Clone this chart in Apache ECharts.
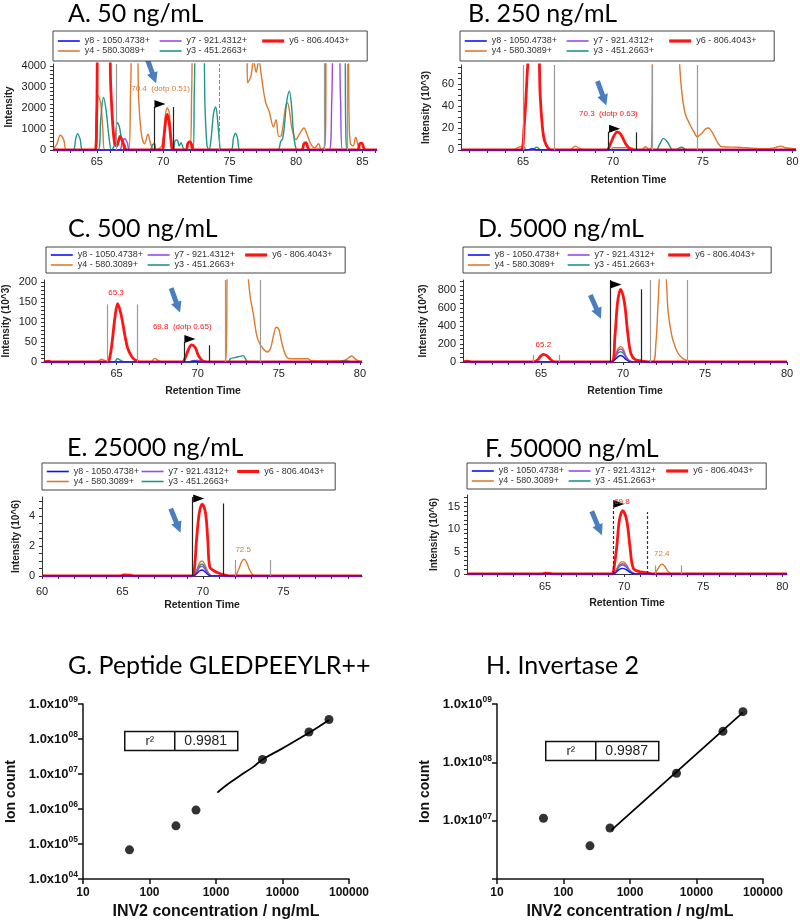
<!DOCTYPE html>
<html>
<head>
<meta charset="utf-8">
<script src="https://cdn.jsdelivr.net/npm/echarts@6/dist/echarts.min.js"></script>
<style>
  html, body { margin: 0; padding: 0; background: #fff; }
  #chart { width: 800px; height: 921px; }
</style>
</head>
<body>
<div id="chart"></div>
<script>
// fragment ions (legend order)
const ION_NAMES = ["y8 - 1050.4738+", "y7 - 921.4312+", "y6 - 806.4043+", "y4 - 580.3089+", "y3 - 451.2663+"];

// ---- A. 50 ng/mL (counts) ----
const A_y8 = [[61.7,0],[86.1,0]];
const A_y7 = [[61.7,0],[66.7,0],[66.9,350],[67.1,550],[67.3,350],[67.5,0],[82.5,0],[82.7,2500],[82.85,5000],[83.2,5000],[83.35,2500],[83.5,0],[86.1,0]];
const A_y6 = [[61.7,0],[64.9,0],[65.0,2000],[65.1,5000],[65.9,5000],[66.05,3000],[66.2,1200],[66.35,300],[66.5,200],[66.75,650],[67.0,300],[67.2,0],[69.9,0],[70.05,600],[70.2,1450],[70.3,1700],[70.45,1300],[70.6,400],[70.75,0],[71.7,0],[71.85,300],[72.0,400],[72.15,250],[72.3,0],[80.4,0],[80.6,300],[80.75,350],[80.9,100],[81.0,0],[84.6,0],[84.8,300],[84.95,330],[85.1,100],[85.2,0],[86.1,0]];
const A_y4 = [[61.7,0],[62.0,300],[62.25,700],[62.5,500],[62.75,0],[64.8,0],[64.95,1500],[65.1,2600],[65.3,2200],[65.45,1000],[65.6,0],[67.4,0],[67.55,3000],[67.7,5000],[68.0,5000],[68.15,2500],[68.35,800],[68.6,300],[68.85,750],[69.05,300],[69.3,0],[69.9,200],[70.15,1600],[70.3,2000],[70.45,1800],[70.6,600],[70.75,0],[72.0,0],[72.15,3000],[72.25,5000],[76.3,5000],[76.35,3200],[76.6,3500],[76.8,4300],[77.0,3700],[77.2,4300],[77.4,3500],[77.7,2300],[78.0,1800],[78.3,1100],[78.5,1450],[78.7,650],[78.9,700],[79.2,2000],[79.35,2250],[79.5,1900],[79.7,1000],[80.0,500],[80.3,800],[80.6,1050],[80.8,800],[81.1,300],[81.4,100],[81.7,300],[81.9,0],[82.2,300],[82.3,5000],[83.9,5000],[84.0,1500],[84.1,300],[84.3,200],[84.5,600],[84.7,200],[85.0,0],[86.1,0]];
const A_y3 = [[61.7,0],[63.2,0],[63.4,500],[63.55,780],[63.75,500],[63.95,0],[65.1,0],[65.3,1500],[65.5,2500],[65.7,1900],[65.9,700],[66.1,0],[66.3,200],[66.55,1300],[66.7,1100],[66.9,400],[67.1,250],[67.3,0],[69.0,0],[69.2,250],[69.35,300],[69.5,0],[70.7,0],[70.9,450],[71.05,480],[71.2,200],[71.35,350],[71.5,100],[71.7,0],[72.25,0],[72.35,3000],[72.5,5000],[73.0,5000],[73.15,2000],[73.3,200],[73.45,0],[73.6,500],[73.8,1800],[73.95,2050],[74.1,1400],[74.25,300],[74.35,0],[75.1,0],[75.3,600],[75.45,800],[75.6,550],[75.8,0],[78.6,0],[78.85,400],[79.0,550],[79.15,1300],[79.3,2300],[79.5,2800],[79.65,2200],[79.8,900],[79.95,200],[80.1,0],[82.1,0],[82.25,5000],[83.65,5000],[83.75,1000],[83.85,0],[86.1,0]];
const A_grey = [66.5, 82.15, 83.85];
const A_greyDash = [74.25];
const A_black = [[69.3,2050],[70.75,2050]];
const A_flag = [69.3,2050];
const A_arrow = [69.13,3760];
const A_label = [69.8,2900,"70.4  (dotp 0.51)"];

// ---- B. 250 ng/mL (10^3) ----
const B_y8 = [[61.54,0],[65.2,0],[65.5,1.2],[65.8,0],[80.2,0]];
const B_y7 = [[61.54,0],[80.2,0]];
const B_y6 = [[61.54,0],[64.85,0],[65.05,20],[65.25,75],[65.45,120],[65.78,120],[65.95,50],[66.08,20],[66.2,8],[66.4,1.5],[66.6,0],[69.65,0],[69.85,5],[70.05,12.5],[70.25,16.5],[70.45,14],[70.7,6],[70.95,1],[71.1,0],[80.2,0]];
const B_y4 = [[61.54,0],[64.4,0],[64.75,2.5],[65.0,3.5],[65.2,0],[67.6,0],[67.9,3.5],[68.2,1],[68.5,0],[69.9,0],[70.0,2],[71.0,2],[71.3,0],[71.6,0],[71.8,3],[72.0,1],[72.15,3],[72.25,120],[73.6,120],[73.72,77],[73.85,51],[74.03,33],[74.3,23],[74.5,17],[74.7,12],[74.95,15],[75.15,19],[75.33,20],[75.5,17],[75.7,11],[75.9,5],[76.1,3],[77.0,2.5],[77.5,2],[78.0,1.5],[78.5,1],[79.0,2],[79.35,3.5],[79.6,2],[80.2,1]];
const B_y3 = [[61.54,0],[65.5,0],[65.75,2.5],[66.0,0],[72.4,0],[72.6,5],[72.82,10.6],[73.05,7],[73.3,0.5],[73.5,0],[73.7,2],[73.85,2.5],[74.0,1],[74.2,0],[80.2,0]];
const B_grey = [65.0, 66.73, 72.17, 74.72];
const B_black = [[69.76,16.7],[71.3,16]];
const B_flag = [69.76,16.7];
const B_arrow = [69.39,51.5];
const B_label = [69.75,33,"70.3  (dotp 0.63)"];

// ---- C. 500 ng/mL (10^3) ----
const C_y8 = [[60.53,0],[69.5,0],[69.8,2],[70.1,0],[80.13,0]];
const C_y7 = [[60.53,0],[69.4,0],[69.7,3],[70.0,4],[70.4,3],[70.7,0],[80.13,0]];
const C_y6 = [[60.53,0],[60.8,2],[61.0,0],[64.45,0],[64.55,5],[64.7,40],[64.9,110],[65.07,146],[65.3,115],[65.5,70],[65.7,33],[66.0,10],[66.3,2],[66.5,0],[69.05,0],[69.25,12],[69.45,33],[69.63,43],[69.85,36],[70.05,16],[70.3,3],[70.5,0],[80.13,0]];
const C_y4 = [[60.53,0],[63.8,0],[64.05,7],[64.3,3],[64.45,0],[67.1,0],[67.35,9],[67.6,3],[67.8,0],[69.4,0],[69.8,4],[70.2,0],[71.7,0],[71.78,60],[71.85,250],[73.05,250],[73.12,210],[73.25,160],[73.43,121],[73.6,75],[73.73,54],[74.04,33],[74.3,25],[74.5,35],[74.7,70],[74.85,87],[75.0,82],[75.15,55],[75.38,21],[75.6,9],[76.2,8],[76.8,8],[77.0,3],[78.0,2],[79.0,3],[79.3,10],[79.5,15],[79.7,8],[80.0,1]];
const C_y3 = [[60.53,0],[64.85,0],[65.05,8],[65.3,3],[65.5,0],[71.9,0],[72.0,8],[72.3,11],[72.6,14],[72.8,16],[72.95,8],[73.1,0],[78.7,0],[79.0,4],[79.3,2],[79.5,0],[80.13,0]];
const C_grey = [71.68, 73.88];
const C_short = [[64.45,144],[66.3,144]];
const C_black = [[69.15,50],[70.72,42]];
const C_flag = [69.15,50];
const C_arrow = [68.64,154];
const C_label1 = [64.97,173,"65.3"];
const C_label2 = [69.05,87,"69.8  (dotp 0.65)"];

// ---- D. 5000 ng/mL (10^3) ----
const D_y8 = [[60.24,0],[69.3,0],[69.5,25],[69.7,60],[69.85,72],[70.0,60],[70.2,25],[70.4,5],[70.6,0],[80.0,0]];
const D_y7 = [[60.24,0],[69.3,0],[69.5,50],[69.7,125],[69.85,145],[70.0,125],[70.2,50],[70.4,10],[70.6,0],[80.0,0]];
const D_y6 = [[60.24,0],[60.5,10],[60.8,0],[64.5,0],[64.8,25],[65.0,70],[65.14,85],[65.35,70],[65.6,25],[65.85,0],[69.3,0],[69.51,298],[69.67,670],[69.85,811],[70.08,670],[70.28,335],[70.48,93],[70.73,30],[71.13,11],[71.54,0],[80.0,0]];
const D_y4 = [[60.24,0],[69.3,0],[69.5,60],[69.7,150],[69.85,172],[70.0,150],[70.2,60],[70.4,15],[70.6,3],[71.0,0],[71.8,0],[72.0,200],[72.15,690],[72.3,1000],[72.55,1000],[72.75,560],[72.97,298],[73.2,160],[73.37,93],[73.6,45],[73.78,27],[74.0,10],[74.3,5],[80.0,4]];
const D_y3 = [[60.24,0],[69.3,0],[69.5,45],[69.7,100],[69.85,115],[70.0,100],[70.2,45],[70.4,8],[70.6,0],[80.0,0]];
const D_grey = [71.68, 73.92];
const D_short = [[64.53,80],[66.11,80]];
const D_black = [[69.2,915],[71.13,811]];
const D_flag = [69.2,830];
const D_arrow = [68.33,614];
const D_label1 = [65.14,197,"65.2"];
const D_label2 = [69.85,925,"69.8"];

// ---- E. 25000 ng/mL (10^6) ----
const E_y8 = [[60,0],[69.4,0],[69.6,0.15],[69.8,0.35],[69.95,0.4],[70.1,0.3],[70.3,0.1],[70.5,0],[79.88,0]];
const E_y7 = [[60,0],[69.4,0],[69.6,0.25],[69.8,0.58],[69.95,0.65],[70.1,0.5],[70.3,0.15],[70.5,0],[79.88,0]];
const E_y6 = [[60,0],[64.8,0],[65.1,0.07],[65.5,0.05],[65.7,0],[69.3,0],[69.45,0.3],[69.6,2.4],[69.77,4.2],[69.95,4.8],[70.16,4.2],[70.3,2.4],[70.42,0.6],[70.67,0.35],[71.08,0.15],[71.5,0.03],[71.7,0],[79.88,0]];
const E_y4 = [[60,0],[69.4,0],[69.6,0.4],[69.8,0.9],[69.95,1.0],[70.1,0.8],[70.3,0.3],[70.5,0.05],[70.7,0],[71.95,0],[72.2,0.4],[72.4,0.95],[72.55,1.12],[72.7,0.95],[72.9,0.4],[73.1,0.08],[73.3,0],[74.0,0],[74.2,0.05],[74.4,0],[79.88,0]];
const E_y3 = [[60,0],[69.4,0],[69.6,0.3],[69.8,0.7],[69.95,0.8],[70.1,0.62],[70.3,0.2],[70.5,0],[79.88,0]];
const E_short = [[71.98,1.07],[74.16,1.07]];
const E_black = [[69.36,5.27],[71.23,4.84]];
const E_flag = [69.36,4.97];
const E_arrow = [68.3,3.69];
const E_label = [72.5,1.78,"72.5"];

// ---- F. 50000 ng/mL (10^6) ----
const F_y8 = [[60.06,0],[69.3,0],[69.5,0.4],[69.7,1.05],[69.9,1.26],[70.1,1.05],[70.35,0.4],[70.6,0.05],[70.8,0],[80.3,0]];
const F_y7 = [[60.06,0],[69.3,0],[69.5,0.8],[69.7,1.9],[69.9,2.3],[70.1,1.9],[70.35,0.75],[70.6,0.1],[70.8,0],[80.3,0]];
const F_y6 = [[60.06,0],[64.8,0],[65.0,0.2],[65.3,0.15],[65.5,0],[69.25,0],[69.32,0.5],[69.53,6],[69.7,12],[69.91,14.1],[70.16,12],[70.37,6],[70.58,1.3],[71.0,0.5],[71.43,0.3],[71.85,0],[80.3,0]];
const F_y4 = [[60.06,0],[69.3,0],[69.5,1.0],[69.7,2.3],[69.9,2.75],[70.1,2.3],[70.35,0.9],[70.6,0.2],[70.8,0],[71.85,0],[72.05,0.7],[72.25,1.8],[72.38,2.16],[72.55,1.8],[72.75,0.7],[72.95,0.1],[73.1,0],[80.3,0]];
const F_y3 = [[60.06,0],[69.3,0],[69.5,0.7],[69.7,1.65],[69.9,2.0],[70.1,1.65],[70.35,0.65],[70.6,0.08],[70.8,0],[80.3,0]];
const F_short = [[71.95,1.9],[73.64,1.9]];
const F_blackDash = [[69.28,14.7],[71.43,13.8]];
const F_flag = [69.28,14.9];
const F_arrow = [68.27,11.3];
const F_label1 = [69.86,16.1,"69.8"];
const F_label2 = [72.38,4.5,"72.4"];

// ---- G / H calibration (ng/mL vs ion count) ----
const CONC = [50, 250, 500, 5000, 25000, 50000];
const G_ion = [6.8e4, 3.3e5, 9.3e5, 2.6e7, 1.58e8, 3.6e8];
const G_fitX = [1047, 1445, 2291, 3631, 5012, 10000, 25000, 50000];
const G_fitY = [2.93e6, 4.85e6, 8.9e6, 1.6e7, 2.6e7, 5.4e7, 1.5e8, 3.5e8];
const H_ion = [1.1e7, 3.7e6, 7.5e6, 6.5e7, 3.4e8, 7.4e8];
const H_fitX = [525, 50000];
const H_fitY = [6.9e6, 7.2e8];
const G_r2 = "0.9981";
const H_r2 = "0.9987";

// ------------------------------------------------------------
const ION_COLORS = ["#1010ff", "#9a48f0", "#ff1414", "#dd7a2e", "#1f978a"];
const ION_WIDTH = [1.4, 1.4, 2.8, 1.4, 1.4];
const DRAW_ORDER = [3, 4, 1, 2, 0]; // y4, y3, y7, y6, y8 on top
const ARROW = "path://M3,0 L8,0 L8,15 L11,15 L5.5,26 L0,15 L3,15 Z";
const FONT = "Liberation Sans, Arial, sans-serif";

const panels = [
  { title: "A. 50 ng/mL", tpos: [68, 1], grid: { left: 53, top: 64, width: 324, height: 86 },
    x: [61.7, 86.1], y: [0, 4100], yMajor: 1000, yMinor: 200, yName: "Intensity", yGap: 39, xGap: 25,
    legend: { left: 53, top: 31, tw: 74, pad: 5 },
    ions: [A_y8, A_y7, A_y6, A_y4, A_y3], grey: A_grey, greyDash: A_greyDash, short: [], black: A_black, blackDash: [],
    flag: A_flag, arrow: A_arrow, arrowRot: 20, labels: [[3, A_label]] },
  { title: "B. 250 ng/mL", tpos: [468, 1], grid: { left: 461, top: 65, width: 335, height: 85 },
    x: [61.54, 80.2], y: [0, 77.3], yMajor: 20, yMinor: 5, yName: "Intensity (10^3)", yGap: 30, xGap: 25,
    legend: { left: 460, top: 31, tw: 74, pad: 5 },
    ions: [B_y8, B_y7, B_y6, B_y4, B_y3], grey: B_grey, greyDash: [], short: [], black: B_black, blackDash: [],
    flag: B_flag, arrow: B_arrow, arrowRot: 20, labels: [[2, B_label]] },
  { title: "C. 500 ng/mL", tpos: [68, 216], grid: { left: 44, top: 280, width: 318, height: 82 },
    x: [60.53, 80.13], y: [0, 205], yMajor: 50, yMinor: 10, yName: "Intensity (10^3)", yGap: 33, xGap: 24,
    legend: { left: 46, top: 247, tw: 69, pad: 3 },
    ions: [C_y8, C_y7, C_y6, C_y4, C_y3], grey: C_grey, greyDash: [], short: C_short, black: C_black, blackDash: [],
    flag: C_flag, arrow: C_arrow, arrowRot: 20, labels: [[2, C_label1], [2, C_label2]] },
  { title: "D. 5000 ng/mL", tpos: [478, 216], grid: { left: 463, top: 280, width: 324, height: 82 },
    x: [60.24, 80.0], y: [0, 915], yMajor: 200, yMinor: 50, yName: "Intensity (10^3)", yGap: 35, xGap: 24,
    legend: { left: 463, top: 247, tw: 72, pad: 3 },
    ions: [D_y8, D_y7, D_y6, D_y4, D_y3], grey: D_grey, greyDash: [], short: D_short, black: D_black, blackDash: [],
    flag: D_flag, arrow: D_arrow, arrowRot: 24, labels: [[2, D_label1], [2, D_label2]] },
  { title: "E. 25000 ng/mL", tpos: [67, 435], grid: { left: 42, top: 497, width: 320, height: 79 },
    x: [60, 79.88], y: [0, 5.27], yMajor: 2, yMinor: 0.5, yName: "Intensity (10^6)", yGap: 21, xGap: 24,
    legend: { left: 42, top: 463, tw: 67, pad: 3.5 },
    ions: [E_y8, E_y7, E_y6, E_y4, E_y3], grey: [], greyDash: [], short: E_short, black: E_black, blackDash: [],
    flag: E_flag, arrow: E_arrow, arrowRot: 22, labels: [[3, E_label]], xMargin: 10 },
  { title: "F. 50000 ng/mL", tpos: [485, 436], grid: { left: 467, top: 495, width: 320, height: 79 },
    x: [60.06, 80.3], y: [0, 17.6], yMajor: 5, yMinor: 1, yName: "Intensity (10^6)", yGap: 28, xGap: 24,
    legend: { left: 467, top: 463, tw: 69, pad: 3 },
    ions: [F_y8, F_y7, F_y6, F_y4, F_y3], grey: [], greyDash: [], short: F_short, black: [], blackDash: F_blackDash,
    flag: F_flag, arrow: F_arrow, arrowRot: 23, labels: [[2, F_label1], [3, F_label2]], xMargin: 7 }
];

function steps(a, b, step) {
  const out = [];
  for (let v = Math.ceil(a / step - 1e-9) * step; v <= b + 1e-9; v += step) out.push(+v.toFixed(6));
  return out;
}

function vline(x, top, y0, style) {
  return [{ coord: [x, y0], lineStyle: style }, { coord: [x, top] }];
}

function plain(v) { return String(+v.toFixed(4)); }

const option = {
  animation: false,
  backgroundColor: "#fff",
  textStyle: { fontFamily: FONT },
  title: [],
  legend: [],
  grid: [],
  xAxis: [],
  yAxis: [],
  series: [],
  graphic: []
};

const legendData = ION_NAMES.map(function (n, k) {
  return { name: n, lineStyle: { width: k === 2 ? 3.2 : 1.6, color: ION_COLORS[k] } };
});

panels.forEach(function (p, i) {
  option.title.push({
    text: p.title, left: p.tpos[0], top: p.tpos[1], padding: 0,
    textStyle: { fontFamily: "Lato", fontSize: 25, fontWeight: "normal", color: "#000" }
  });
  option.legend.push({
    data: legendData, left: p.legend.left, top: p.legend.top, width: 3 * (27 + p.legend.tw) + 30,
    orient: "horizontal", itemGap: 0, itemWidth: 22, itemHeight: 10,
    padding: [p.legend.pad, 4, p.legend.pad, 4],
    borderColor: "#444", borderWidth: 1, backgroundColor: "#fff",
    selectedMode: false, z: 10,
    itemStyle: { opacity: 0, borderWidth: 0 },
    textStyle: { fontSize: 9, width: p.legend.tw, lineHeight: 10, color: "#333", fontFamily: FONT }
  });
  option.grid.push(Object.assign({ outerBoundsMode: "none", containLabel: false }, p.grid));
  option.xAxis.push({
    type: "value", gridIndex: i, min: p.x[0], max: p.x[1],
    name: "Retention Time", nameLocation: "middle", nameGap: p.xGap,
    nameTextStyle: { fontWeight: "bold", fontSize: 10.5, color: "#222" },
    axisLine: { show: true, onZero: false, lineStyle: { color: "#333", width: 1 } },
    axisTick: { show: true, length: 3, customValues: steps(p.x[0], p.x[1], 1), lineStyle: { color: "#333" } },
    axisLabel: { customValues: steps(p.x[0], p.x[1], 5), formatter: plain, fontSize: 11, color: "#222", margin: p.xMargin || 6 },
    splitLine: { show: false }
  });
  option.yAxis.push({
    type: "value", gridIndex: i, min: p.y[0], max: p.y[1],
    name: p.yName, nameLocation: "middle", nameGap: p.yGap,
    nameTextStyle: { fontWeight: "bold", fontSize: 10, color: "#222" },
    axisLine: { show: true, lineStyle: { color: "#333", width: 1 } },
    axisTick: { show: true, length: 3, customValues: steps(p.y[0], p.y[1], p.yMinor), lineStyle: { color: "#333" } },
    axisLabel: { customValues: steps(p.y[0], p.y[1], p.yMajor), formatter: plain, fontSize: 11, color: "#222", margin: 7 },
    splitLine: { show: false }
  });

  DRAW_ORDER.forEach(function (k) {
    const marks = p.labels.filter(function (l) { return l[0] === k; }).map(function (l) {
      return {
        coord: [l[1][0], l[1][1]], symbol: "rect", symbolSize: 1, itemStyle: { color: "rgba(0,0,0,0)" },
        label: { show: true, position: "inside", formatter: l[1][2], fontSize: 8, color: ION_COLORS[k] }
      };
    });
    option.series.push({
      type: "line", name: ION_NAMES[k], xAxisIndex: i, yAxisIndex: i, data: p.ions[k],
      symbol: "none", smooth: 0.35, clip: true,
      lineStyle: { color: ION_COLORS[k], width: ION_WIDTH[k] }, itemStyle: { color: ION_COLORS[k] },
      markPoint: marks.length ? { data: marks, animation: false, silent: true } : undefined
    });
  });

  // peak boundaries, flag and arrow
  const grey = { color: "#9a9a9a", width: 1.2, type: "solid" };
  const greyDash = { color: "#8a8a8a", width: 1, type: "dashed" };
  const black = { color: "#222", width: 1.2, type: "solid" };
  const blackDash = { color: "#333", width: 1.2, type: [3, 2] };
  const lines = []
    .concat(p.grey.map(function (x) { return vline(x, p.y[1], 0, grey); }))
    .concat(p.greyDash.map(function (x) { return vline(x, p.y[1], 0, greyDash); }))
    .concat(p.short.map(function (d) { return vline(d[0], d[1], 0, grey); }))
    .concat(p.black.map(function (d) { return vline(d[0], d[1], 0, black); }))
    .concat(p.blackDash.map(function (d) { return vline(d[0], d[1], 0, blackDash); }));
  option.series.push({
    type: "line", name: "marks " + i, xAxisIndex: i, yAxisIndex: i, data: [], symbol: "none", silent: true,
    markLine: { symbol: "none", silent: true, animation: false, label: { show: false }, data: lines },
    markPoint: {
      silent: true, animation: false,
      data: [
        { coord: p.flag, symbol: "triangle", symbolSize: [8, 11], symbolRotate: -90, symbolOffset: [6, -3],
          itemStyle: { color: "#000" }, label: { show: false } },
        { coord: p.arrow, symbol: ARROW, symbolSize: [11, 26], symbolRotate: p.arrowRot,
          itemStyle: { color: "#4a7ebf" }, label: { show: false } }
      ]
    }
  });
});

// ---- calibration panels G, H ----
const calib = [
  { title: "G. Peptide GLEDPEEYLR++", tpos: [68, 653], grid: { left: 83, top: 704, width: 266, height: 175 },
    y: [1e4, 1e9], hideExp: -1, ion: G_ion, fx: G_fitX, fy: G_fitY, smooth: 0.4, r2: G_r2, box: [124, 729] },
  { title: "H. Invertase 2", tpos: [486, 653], grid: { left: 497, top: 704, width: 266, height: 175 },
    y: [1e6, 1e9], hideExp: 6, ion: H_ion, fx: H_fitX, fy: H_fitY, smooth: false, r2: H_r2, box: [545, 739] }
];
calib.forEach(function (c, j) {
  const i = panels.length + j;
  option.title.push({
    text: c.title, left: c.tpos[0], top: c.tpos[1], padding: 0,
    textStyle: { fontFamily: "Lato", fontSize: 25, fontWeight: "normal", color: "#000" }
  });
  option.grid.push(Object.assign({ outerBoundsMode: "none", containLabel: false }, c.grid));
  option.xAxis.push({
    type: "log", logBase: 10, gridIndex: i, min: 10, max: 100000,
    name: "INV2 concentration / ng/mL", nameLocation: "middle", nameGap: 25,
    nameTextStyle: { fontWeight: "bold", fontSize: 16, color: "#111" },
    axisLine: { show: true, lineStyle: { color: "#111", width: 1.5 } },
    axisTick: { show: true, length: 5, lineStyle: { color: "#111", width: 1.5 } },
    axisLabel: { fontWeight: "bold", fontSize: 12, color: "#111", margin: 8,
      formatter: function (v) { return String(Math.round(v)); } },
    splitLine: { show: false }, minorTick: { show: false }
  });
  option.yAxis.push({
    type: "log", logBase: 10, gridIndex: i, min: c.y[0], max: c.y[1],
    name: "Ion count", nameLocation: "middle", nameGap: 65,
    nameTextStyle: { fontWeight: "bold", fontSize: 14, color: "#111" },
    axisLine: { show: true, lineStyle: { color: "#111", width: 1.5 } },
    axisTick: { show: true, length: 5, lineStyle: { color: "#111", width: 1.5 } },
    axisLabel: { margin: 5,
      formatter: function (v) {
        const e = Math.round(Math.log10(v));
        if (e === c.hideExp) return "";
        return "{m|1.0x10}{s|" + (e < 10 ? "0" + e : e) + "}";
      },
      rich: { m: { fontWeight: "bold", fontSize: 13, color: "#111", lineHeight: 17 },
              s: { fontWeight: "bold", fontSize: 8.5, color: "#111", lineHeight: 9, verticalAlign: "top" } } },
    splitLine: { show: false }, minorTick: { show: false }
  });
  option.series.push({
    type: "line", name: "fit " + j, xAxisIndex: i, yAxisIndex: i, symbol: "none", smooth: c.smooth,
    data: c.fx.map(function (x, k) { return [x, c.fy[k]]; }),
    lineStyle: { color: "#000", width: 1.8 }
  });
  option.series.push({
    type: "scatter", name: "points " + j, xAxisIndex: i, yAxisIndex: i, symbolSize: 9,
    data: CONC.map(function (x, k) { return [x, c.ion[k]]; }),
    itemStyle: { color: "#000" }
  });
  // r² table
  const bx = c.box[0], by = c.box[1];
  option.graphic.push({
    type: "group", left: bx, top: by, children: [
      { type: "rect", shape: { x: 0, y: 0, width: 113, height: 19 }, style: { fill: "#fff", stroke: "#111", lineWidth: 1.5 } },
      { type: "line", shape: { x1: 50, y1: 0, x2: 50, y2: 19 }, style: { stroke: "#111", lineWidth: 1.5 } },
      { type: "text", x: 25, y: 10, style: { text: "r²", fontSize: 13, fontFamily: FONT, fill: "#222", align: "center", verticalAlign: "middle" } },
      { type: "text", x: 81, y: 10, style: { text: c.r2, fontSize: 14, fontFamily: FONT, fill: "#222", align: "center", verticalAlign: "middle" } }
    ]
  });
});

const chart = echarts.init(document.getElementById("chart"), null, { renderer: "canvas" });
chart.setOption(option);
</script>
</body>
</html>
